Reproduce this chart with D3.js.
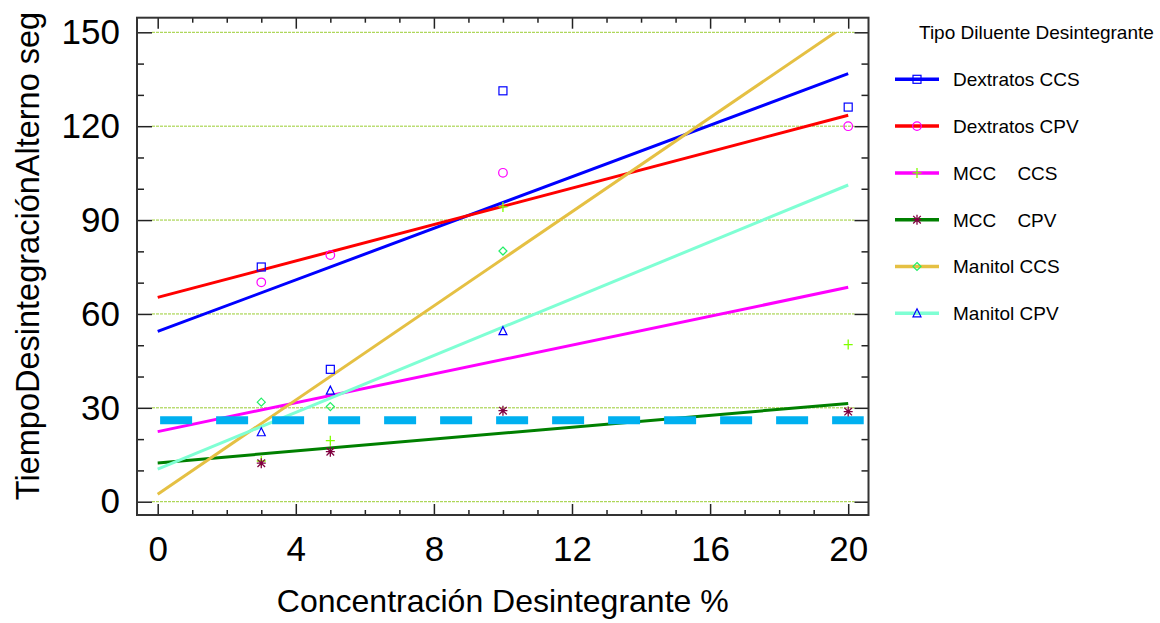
<!DOCTYPE html>
<html><head><meta charset="utf-8">
<script src="https://cdn.jsdelivr.net/npm/d3@7"></script>
<style>body{margin:0;background:#fff}svg{display:block}text{font-family:"Liberation Sans",Arial,sans-serif;fill:#000}</style>
</head><body><svg id="c" width="1160" height="623"></svg>
<script>
// ---- data ----
const xValues = [3, 5, 10, 20];
const seriesNames = ["Dextratos CCS", "Dextratos CPV", "MCC    CCS", "MCC    CPV", "Manitol CCS", "Manitol CPV"];
const dextratosCCS = [75.0, 42.3, 131.3, 126.1];
const dextratosCPV = [70.1, 78.8, 105.1, 120.0];
const mccCCS = [13.0, 19.5, 94.2, 50.2];
const mccCPV = [12.3, 16.0, 29.1, 28.8];
const manitolCCS = [31.8, 30.4, 80.1, null];
const manitolCPV = [22.2, 35.5, 54.5, null];
const fitX = [0, 20];
const fitAt0 = [54.4, 65.3, 22.4, 12.4, 2.4, 10.4];
const fitAt20 = [136.8, 123.5, 68.5, 31.4, 152.8, 101.2];
const refLevel = 26;
const refRange = [0.07, 20.45];
const xTicks = [0, 4, 8, 12, 16, 20];
const yTicks = [0, 30, 60, 90, 120, 150];
const xMinor = d3.range(0, 21, 1);
const yMinor = d3.range(0, 151, 10);
const legendTitle = "Tipo Diluente Desintegrante";
const xTitle = "Concentración Desintegrante %";
const yTitle = "TiempoDesintegraciónAlterno seg";

// ---- styles ----
const lineColors = ["#0000ff", "#ff0000", "#ff00ff", "#008000", "#e5c043", "#7fffd4"];
const markerColors = ["#0000ff", "#ff00ff", "#80ff00", "#800040", "#22ee66", "#0000ff"];
const markerTypes = ["square", "circle", "plus", "star", "diamond", "triangle"];
const values = [dextratosCCS, dextratosCPV, mccCCS, mccCPV, manitolCCS, manitolCPV];

const L = 137, R = 868.5, T = 17.7, B = 515;
const x = d3.scaleLinear().domain([0, 20]).range([157.7, 848.2]);
const y = d3.scaleLinear().domain([0, 150]).range([501.7, 32.3]);
const svg = d3.select("#c");

// grid
svg.append("g").selectAll("line").data(yTicks).join("line")
  .attr("x1", L + 15).attr("x2", R - 14)
  .attr("y1", d => y(d)).attr("y2", d => y(d))
  .attr("stroke", "#9acd32").attr("stroke-width", 1).attr("stroke-dasharray", "3,1");

// clip for fit lines (stop at y=150)
svg.append("clipPath").attr("id", "clp").append("rect")
  .attr("x", L).attr("y", y(150)).attr("width", R - L).attr("height", B - y(150));

const fits = seriesNames.map((n, i) => [[fitX[0], fitAt0[i]], [fitX[1], fitAt20[i]]]);
const lineGen = d3.line().x(d => x(d[0])).y(d => y(d[1]));
svg.append("g").attr("clip-path", "url(#clp)").selectAll("path").data(fits).join("path")
  .attr("d", lineGen).attr("fill", "none")
  .attr("stroke", (d, i) => lineColors[i]).attr("stroke-width", 3);

// reference dashed line
svg.append("line")
  .attr("x1", x(refRange[0])).attr("x2", x(refRange[1]))
  .attr("y1", y(refLevel)).attr("y2", y(refLevel))
  .attr("stroke", "#00b0f0").attr("stroke-width", 8).attr("stroke-dasharray", "32,24");

// markers
function marker(g, type, color) {
  const s = 4;
  if (type === "square") g.append("rect").attr("x", -s).attr("y", -s).attr("width", 2*s).attr("height", 2*s).attr("fill", "none").attr("stroke", color).attr("stroke-width", 1.2);
  else if (type === "circle") g.append("circle").attr("r", 4.3).attr("fill", "none").attr("stroke", color).attr("stroke-width", 1.2);
  else if (type === "plus") g.append("path").attr("d", "M-4.5,0H4.5M0,-5V5").attr("stroke", color).attr("stroke-width", 1.3);
  else if (type === "star") g.append("path").attr("d", "M-4.5,0H4.5M0,-5V5M-3.8,-3.8L3.8,3.8M-3.8,3.8L3.8,-3.8").attr("stroke", color).attr("stroke-width", 1.3);
  else if (type === "diamond") g.append("path").attr("d", "M0,-4L4,0L0,4L-4,0Z").attr("fill", "none").attr("stroke", color).attr("stroke-width", 1.2);
  else if (type === "triangle") g.append("path").attr("d", "M0,-4.5L4,3.5H-4Z").attr("fill", "none").attr("stroke", color).attr("stroke-width", 1.2);
}
values.forEach((arr, i) => {
  arr.forEach((v, j) => {
    if (v == null) return;
    const g = svg.append("g").attr("transform", `translate(${x(xValues[j])},${y(v)})`);
    marker(g, markerTypes[i], markerColors[i]);
  });
});

// axes
const tickCol = "#222";
function styleAxis(g) { g.select(".domain").remove(); g.selectAll(".tick line").attr("stroke", tickCol).attr("stroke-width", 1.5); }
const yMinorOnly = yMinor.filter(v => !yTicks.includes(v));
const xMinorOnly = xMinor.filter(v => !xTicks.includes(v));

svg.append("g").attr("transform", `translate(${L},0)`)
  .call(d3.axisLeft(y).tickValues(yTicks).tickSize(-15).tickPadding(17))
  .call(styleAxis).call(g => g.selectAll("text").attr("font-size", 35).attr("font-family", "Liberation Sans, Arial").attr("fill", "#000"));
svg.append("g").attr("transform", `translate(${L},0)`)
  .call(d3.axisLeft(y).tickValues(yMinorOnly).tickSize(-7).tickFormat(""))
  .call(styleAxis);
svg.append("g").attr("transform", `translate(${R},0)`)
  .call(d3.axisRight(y).tickValues(yTicks).tickSize(-14).tickFormat(""))
  .call(styleAxis);
svg.append("g").attr("transform", `translate(${R},0)`)
  .call(d3.axisRight(y).tickValues(yMinorOnly).tickSize(-7).tickFormat(""))
  .call(styleAxis);
svg.append("g").attr("transform", `translate(0,${B})`)
  .call(d3.axisBottom(x).tickValues(xTicks).tickSize(-11).tickPadding(21))
  .call(styleAxis).call(g => g.selectAll("text").attr("font-size", 35).attr("font-family", "Liberation Sans, Arial").attr("fill", "#000"));
svg.append("g").attr("transform", `translate(0,${B})`)
  .call(d3.axisBottom(x).tickValues(xMinorOnly).tickSize(-5).tickFormat(""))
  .call(styleAxis);
svg.append("g").attr("transform", `translate(0,${T})`)
  .call(d3.axisTop(x).tickValues(xTicks).tickSize(-11).tickFormat(""))
  .call(styleAxis);
svg.append("g").attr("transform", `translate(0,${T})`)
  .call(d3.axisTop(x).tickValues(xMinorOnly).tickSize(-5).tickFormat(""))
  .call(styleAxis);

// frame
svg.append("rect").attr("x", L).attr("y", T).attr("width", R - L).attr("height", B - T)
  .attr("fill", "none").attr("stroke", "#333").attr("stroke-width", 2);

// titles
svg.append("text").attr("x", (L + R) / 2).attr("y", 612).attr("text-anchor", "middle")
  .attr("font-size", 32).text(xTitle);
svg.append("text").attr("transform", "translate(39,256) rotate(-90)").attr("text-anchor", "middle")
  .attr("font-size", 32.5).text(yTitle);

// legend
svg.append("text").attr("x", 919).attr("y", 39).attr("font-size", 19).text(legendTitle);
const lg = svg.append("g");
seriesNames.forEach((n, i) => {
  const cy = 79.3 + i * 46.8;
  lg.append("line").attr("x1", 895).attr("x2", 939).attr("y1", cy).attr("y2", cy)
    .attr("stroke", lineColors[i]).attr("stroke-width", 3.5);
  const g = lg.append("g").attr("transform", `translate(917,${cy})`);
  marker(g, markerTypes[i], markerColors[i]);
  lg.append("text").attr("x", 953).attr("y", cy + 6.8).attr("font-size", 19)
    .attr("xml:space", "preserve").style("white-space", "pre").text(n);
});
</script></body></html>
